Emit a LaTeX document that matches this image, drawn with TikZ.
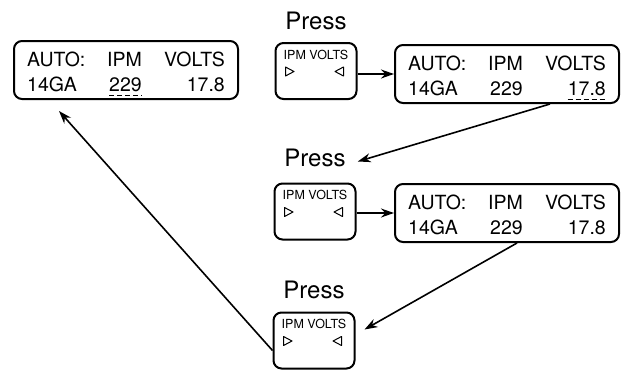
\documentclass[tikz,border=0pt]{standalone}
\usepackage{fontspec}
\setmainfont{TeX Gyre Heros}
\usetikzlibrary{arrows.meta,calc}

\begin{document}
\begin{tikzpicture}[x=1pt,y=-1pt,
  panel/.style={draw, line width=2pt, rounded corners=8pt,
    minimum width=224pt, minimum height=58pt, inner sep=0pt},
  keybox/.style={draw, line width=2pt, rounded corners=8pt,
    minimum width=81pt, minimum height=56pt, inner sep=0pt},
  big/.style={font=\fontsize{19.5}{21}\selectfont, inner sep=0pt},
  press/.style={font=\fontsize{24}{26}\selectfont, inner sep=0pt},
  small/.style={font=\fontsize{12.5}{14}\selectfont, inner sep=0pt},
  flow/.style={-{Stealth[length=13pt,width=9pt]}, line width=1.6pt},
  tri/.style={line width=1pt, line join=round},
  uline/.style={line width=1pt, dash pattern=on 5pt off 3pt}
]
\useasboundingbox (0,0) rectangle (623,370);

% display panels
\node[panel] (dA) at (126,70) {};
\node[panel] (dB) at (507,74) {};
\node[panel] (dC) at (507,213) {};

\foreach \p in {dA,dB,dC}{
  \node[big, anchor=base west] (\p-auto) at ([shift={(14pt,-26pt)}]\p.north west) {AUTO:};
  \node[big, anchor=base west] (\p-ipmh) at ([shift={(94pt,-26pt)}]\p.north west) {IPM};
  \node[big, anchor=base east] (\p-volth) at ([shift={(-14pt,-26pt)}]\p.north east) {VOLTS};
  \node[big, anchor=base west] (\p-ga) at ([shift={(14pt,-51pt)}]\p.north west) {14GA};
  \node[big, anchor=base west] (\p-ipm) at ([shift={(96pt,-51pt)}]\p.north west) {229};
  \node[big, anchor=base east] (\p-volt) at ([shift={(-14pt,-51pt)}]\p.north east) {17.8};
}

% flashing field markers
\draw[uline] ([yshift=-4pt]dA-ipm.base west) -- ([yshift=-4pt]dA-ipm.base east);
\draw[uline] ([yshift=-4pt]dB-volt.base west) -- ([yshift=-4pt]dB-volt.base east);

% key buttons
\node[keybox] (k1) at (316,71) {};
\node[keybox] (k2) at (315,211.5) {};
\node[keybox] (k3) at (314,340.5) {};

\foreach \k in {k1,k2,k3}{
  \node[small, anchor=base] (\k-lbl) at ([yshift=-17pt]\k.north) {IPM VOLTS};
  \draw[tri] ([shift={(11pt,-25pt)}]\k.north west) -- ++(8.5pt,-4.5pt) -- ++(-8.5pt,-4.5pt) -- cycle;
  \draw[tri] ([shift={(-14pt,-25pt)}]\k.north east) -- ++(-8.5pt,-4.5pt) -- ++(8.5pt,-4.5pt) -- cycle;
}

\node[press, anchor=base] (p1) at ([yshift=13pt]k1.north) {Press};
\node[press, anchor=base] (p2) at ([yshift=16pt]k2.north) {Press};
\node[press, anchor=base] (p3) at ([yshift=13pt]k3.north) {Press};

% sequence arrows
\draw[flow] (k1.east |- dB.west) -- (dB.west);
\draw[flow] (k2.east |- dC.west) -- (dC.west);
\draw[flow] ([xshift=43pt]dB.south) -- ([xshift=12pt,yshift=5pt]p2.base east);
\draw[flow] ([xshift=10pt]dC.south) -- ([xshift=9pt,yshift=-18pt]k3.north east);
\draw[flow] ([yshift=-10pt]k3.west) -- ([shift={(46pt,-11pt)}]dA.south west);
\end{tikzpicture}
\end{document}
